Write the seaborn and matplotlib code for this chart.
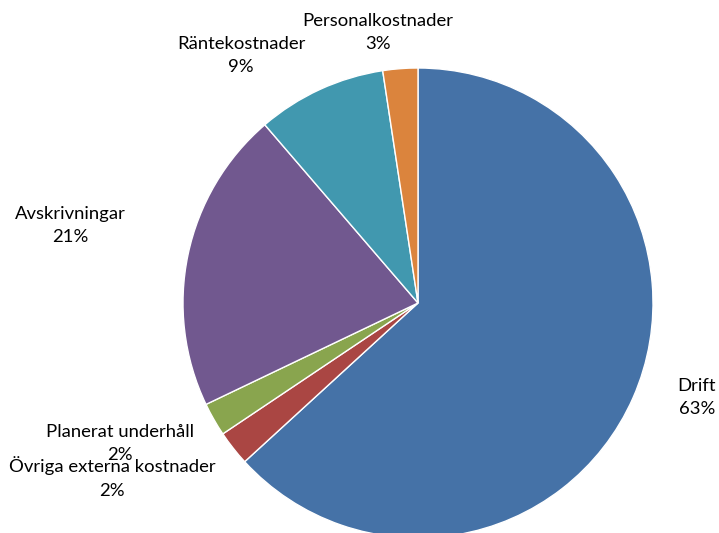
import numpy as np
import matplotlib
matplotlib.use('Agg')
import matplotlib.pyplot as plt
import seaborn as sns

sns.set_theme(style='white')
plt.rcParams['font.family'] = ['Lato', 'DejaVu Sans']

# data, clockwise from 12 o'clock
categories = ['Drift', 'Övriga externa kostnader', 'Planerat underhåll',
              'Avskrivningar', 'Räntekostnader', 'Personalkostnader']
values = [63.2, 2.4, 2.3, 20.8, 8.9, 2.4]
pct_labels = ['63%', '2%', '2%', '21%', '9%', '3%']

colors = ['#4572A7', '#AA4643', '#89A54E', '#71588F', '#4198AF', '#DB843D']

# label anchor positions (in pie-radius units, relative to centre)
label_pos = [(1.187, -0.402), (-1.302, -0.743), (-1.268, -0.598),
             (-1.481, 0.330), (-0.753, 1.053), (-0.170, 1.151)]

fig = plt.figure(figsize=(7.19, 5.33), dpi=100)
ax = fig.add_axes([0, 0, 1, 1])

wedges, _ = ax.pie(values, colors=colors, startangle=90, counterclock=False,
                   radius=1.0, wedgeprops=dict(edgecolor='white', linewidth=1))

for name, pct, (lx, ly) in zip(categories, pct_labels, label_pos):
    ax.text(lx, ly, name + '\n' + pct, ha='center', va='center',
            fontsize=13.3, color='black', linespacing=1.6)

# centre at pixel (418, 303), radius 235 px
ax.set_xlim(-418 / 235, (719 - 418) / 235)
ax.set_ylim(-(533 - 303) / 235, 303 / 235)
ax.set_aspect('auto')
ax.axis('off')

fig.savefig('out.png', dpi=100)
